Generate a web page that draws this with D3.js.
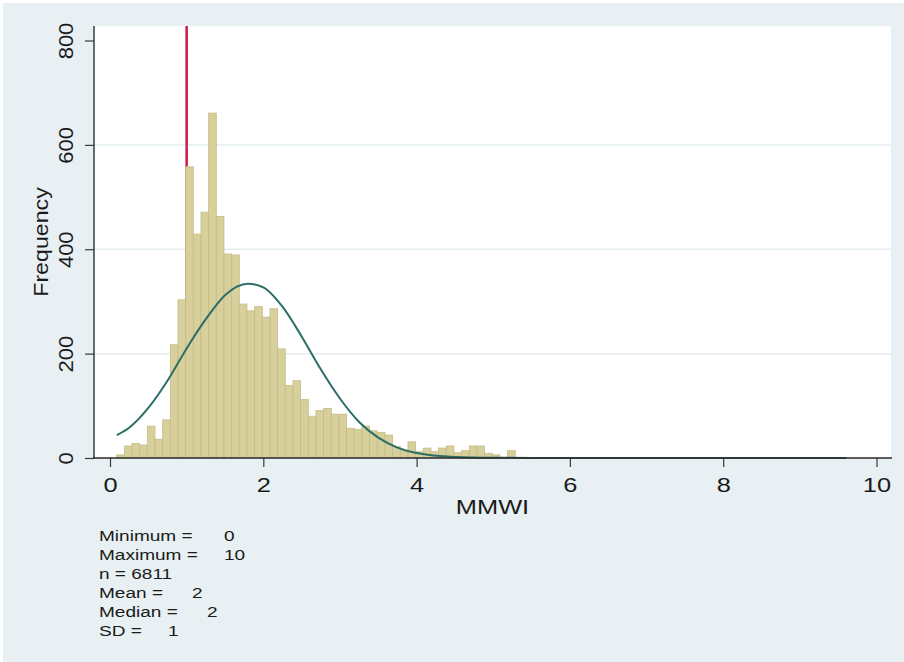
<!DOCTYPE html>
<html>
<head>
<meta charset="utf-8">
<script src="https://cdn.jsdelivr.net/npm/d3@7"></script>
<style>
  body { margin: 0; background: #ffffff; }
  svg text { font-family: "Liberation Sans", Arial, sans-serif; fill: #1a1a1a; }
</style>
</head>
<body>
<div id="chart"></div>
<script>
// histogram bins (frequency), width 0.1 starting at the minimum
var binStart = 0.087;
var binWidth = 0.1;
var binCounts = [6, 23, 28, 25, 61, 36, 73, 217, 303, 558, 429, 471, 661, 463, 391, 389,
    295, 282, 290, 270, 286, 209, 139, 148, 112, 80, 91, 95, 84, 84, 57, 55, 61, 52,
    49, 44, 22, 15, 31, 12, 19, 12, 19, 23, 10, 14, 23, 23, 9, 6, 0, 14];

// normal overlay
var curveX = [0.09, 0.25, 0.5, 0.75, 1.0, 1.25, 1.5, 1.8, 2.0, 2.25, 2.5, 2.75, 3.0, 3.25,
    3.5, 3.75, 4.0, 4.5, 5.0, 5.5, 6.5, 9.61];
var curveY = [44, 58, 96, 148, 210, 266, 312, 334, 327, 290, 233, 170, 114, 69,
    39, 20, 9.5, 2, 0.4, 0.05, 0, 0];

var refLine = 1;

var xTicks = [0, 2, 4, 6, 8, 10];
var yTicks = [0, 200, 400, 600, 800];
var gridTicks = [200, 400, 600];

var statLabels = ["Minimum =", "Maximum =", "n = 6811", "Mean =", "Median =", "SD ="];
var statValues = ["0", "10", "", "2", "2", "1"];
var statValueX = [224, 224, 0, 192, 207, 168];

var svgWidth = 904;
var svgHeight = 662;
var plot = {left: 94, right: 891, top: 26, bottom: 458};
var wide = 1.27;   // text in the picture is drawn wider than plain Arial

var svg = d3.select("#chart")
    .append("svg")
    .attr("width", svgWidth)
    .attr("height", svgHeight);

// outer background
svg.append("rect")
    .attr("x", 3).attr("y", 3)
    .attr("width", svgWidth - 3).attr("height", svgHeight - 3)
    .attr("fill", "#e8f0f3");

// plot region
svg.append("rect")
    .attr("x", plot.left).attr("y", plot.top)
    .attr("width", plot.right - plot.left).attr("height", plot.bottom - plot.top)
    .attr("rx", 2)
    .attr("fill", "#ffffff");

var x = d3.scaleLinear().domain([0, 10]).range([110, 876.5]);
var y = d3.scaleLinear().domain([0, 800]).range([458, 40.5]);

// gridlines
svg.selectAll(".grid")
    .data(gridTicks)
    .enter()
    .append("line")
    .attr("x1", plot.left).attr("x2", plot.right)
    .attr("y1", d => y(d)).attr("y2", d => y(d))
    .attr("stroke", "#e3ecef")
    .attr("stroke-width", 1.5);

// reference line at 1 (behind bars)
svg.append("line")
    .attr("x1", x(refLine)).attr("x2", x(refLine))
    .attr("y1", plot.top).attr("y2", plot.bottom)
    .attr("stroke", "#cc1a44")
    .attr("stroke-width", 2.5);

// bars
svg.selectAll(".bar")
    .data(binCounts)
    .enter()
    .append("rect")
    .attr("x", (d, i) => x(binStart + i * binWidth))
    .attr("width", x(binWidth) - x(0))
    .attr("y", d => y(d))
    .attr("height", d => y(0) - y(d))
    .attr("fill", "#d7d09c")
    .attr("stroke", "#c6bd84")
    .attr("stroke-width", 0.8);

// normal curve
var line = d3.line()
    .x((d, i) => x(curveX[i]))
    .y(d => y(d))
    .curve(d3.curveMonotoneX);

svg.append("path")
    .datum(curveY)
    .attr("d", line)
    .attr("fill", "none")
    .attr("stroke", "#2b6e66")
    .attr("stroke-width", 2);

// y axis
var leftAxis = d3.axisLeft(y).tickValues(yTicks).tickSize(9).tickSizeOuter(0);
var yAxisG = svg.append("g")
    .attr("transform", `translate(${plot.left}, 0)`)
    .call(leftAxis);
yAxisG.select(".domain").remove();
yAxisG.append("line")
    .attr("x1", 0).attr("x2", 0)
    .attr("y1", plot.top).attr("y2", plot.bottom)
    .attr("stroke", "#3a3a3a").attr("stroke-width", 1.5);
yAxisG.selectAll(".tick line").attr("stroke", "#3a3a3a").attr("stroke-width", 1.2);
yAxisG.selectAll(".tick text")
    .attr("transform", "translate(-21, 0) rotate(-90) scale(1.1, 1)")
    .attr("x", 0)
    .attr("y", 0)
    .attr("dy", 0)
    .attr("text-anchor", "middle")
    .style("font-size", "20px")
    .style("font-family", "'Liberation Sans', Arial, sans-serif")
    .attr("fill", "#1a1a1a");

// x axis
var bottomAxis = d3.axisBottom(x).tickValues(xTicks).tickSize(9).tickSizeOuter(0);
var xAxisG = svg.append("g")
    .attr("transform", `translate(0, ${plot.bottom})`)
    .call(bottomAxis);
xAxisG.select(".domain").remove();
xAxisG.append("line")
    .attr("x1", plot.left - 1).attr("x2", plot.right + 1)
    .attr("y1", 0).attr("y2", 0)
    .attr("stroke", "#2a2a2a").attr("stroke-width", 1.5);
xAxisG.selectAll(".tick line").attr("stroke", "#3a3a3a").attr("stroke-width", 1.2);
xAxisG.selectAll(".tick text")
    .attr("transform", `translate(0, 34) scale(${wide}, 1)`)
    .attr("y", 0)
    .attr("dy", 0)
    .style("font-size", "20px")
    .style("font-family", "'Liberation Sans', Arial, sans-serif")
    .attr("fill", "#1a1a1a");

// axis titles
svg.append("text")
    .attr("transform", `translate(48, ${(plot.top + plot.bottom) / 2}) rotate(-90) scale(1.16, 1)`)
    .attr("text-anchor", "middle")
    .style("font-size", "20px")
    .text("Frequency");

svg.append("text")
    .attr("transform", `translate(${(plot.left + plot.right) / 2}, 514) scale(${wide}, 1)`)
    .attr("text-anchor", "middle")
    .style("font-size", "20px")
    .text("MMWI");

// summary stats note
svg.selectAll(".statLabel")
    .data(statLabels)
    .enter()
    .append("text")
    .attr("transform", (d, i) => `translate(99, ${541 + i * 18.9}) scale(${wide}, 1)`)
    .style("font-size", "15px")
    .text(d => d);

svg.selectAll(".statValue")
    .data(statValues)
    .enter()
    .append("text")
    .attr("transform", (d, i) => `translate(${statValueX[i]}, ${541 + i * 18.9}) scale(${wide}, 1)`)
    .style("font-size", "15px")
    .text(d => d);
</script>
</body>
</html>
